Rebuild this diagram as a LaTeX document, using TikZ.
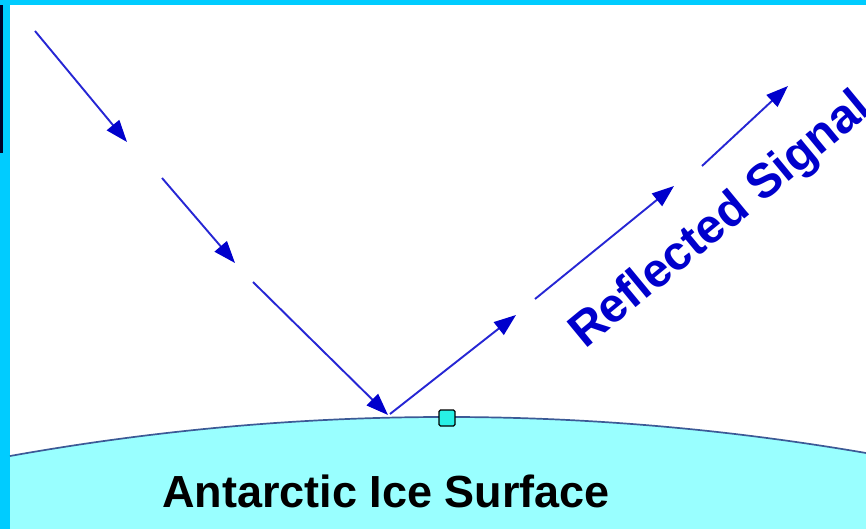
\documentclass[tikz,border=0pt]{standalone}
\usepackage{fontspec}
\setmainfont{Liberation Sans}
\usetikzlibrary{arrows.meta}
\definecolor{rayblue}{RGB}{0,0,204}
\definecolor{framecyan}{RGB}{0,204,255}
\definecolor{icefill}{RGB}{153,255,255}
\definecolor{iceedge}{RGB}{60,90,150}
\definecolor{handlecyan}{RGB}{40,240,230}
\tikzset{
  ray/.style={rayblue!85!white,line width=1.9pt,-{Triangle[length=22pt,width=16pt,color=rayblue]}},
  handle/.style={draw=black,fill=handlecyan,line width=1.2pt,rounded corners=1.5pt,minimum size=16pt,inner sep=0pt},
  bigtxt/.style={font=\bfseries\fontsize{45}{54}\selectfont,inner sep=0pt}
}
\begin{document}
\begin{tikzpicture}[x=1pt,y=-1pt]
\useasboundingbox (0,0) rectangle (866,529);
\fill[white] (0,0) rectangle (866,529);
\fill[framecyan] (0,0) rectangle (866,5);
\fill[framecyan] (0,0) rectangle (10,529);
\fill[black!85!blue] (0,5) rectangle (2.7,153);
% ice surface
\fill[icefill] (10,456) .. controls (295,405) and (581,404) .. (866,453) -- (866,529) -- (10,529) -- cycle;
\draw[iceedge,line width=1.7pt] (10,456) .. controls (295,405) and (581,404) .. (866,453);
\node[handle] (hnd) at (447,418) {};
% incident and reflected rays
\foreach \n/\x/\y in {i1/35/31,i2/127/142,i3/162/178,i4/235/263,i5/253/282,i6/388/415,
  r1/390/414,r2/516/315,r3/535/299,r4/674/186,r5/702/166,r6/788/86}
  \coordinate (\n) at (\x,\y);
\foreach \s/\e in {i1/i2,i3/i4,i5/i6,r1/r2,r3/r4,r5/r6}
  \draw[ray] (\s) -- (\e);
\node[bigtxt,anchor=base] (ice) at (386,507) {Antarctic Ice Surface};
\node[bigtxt,text=rayblue,font=\bfseries\fontsize{48}{54}\selectfont,rotate=39.5,anchor=base west] (sig) at (585,350) {Reflected Signal};
\end{tikzpicture}
\end{document}
